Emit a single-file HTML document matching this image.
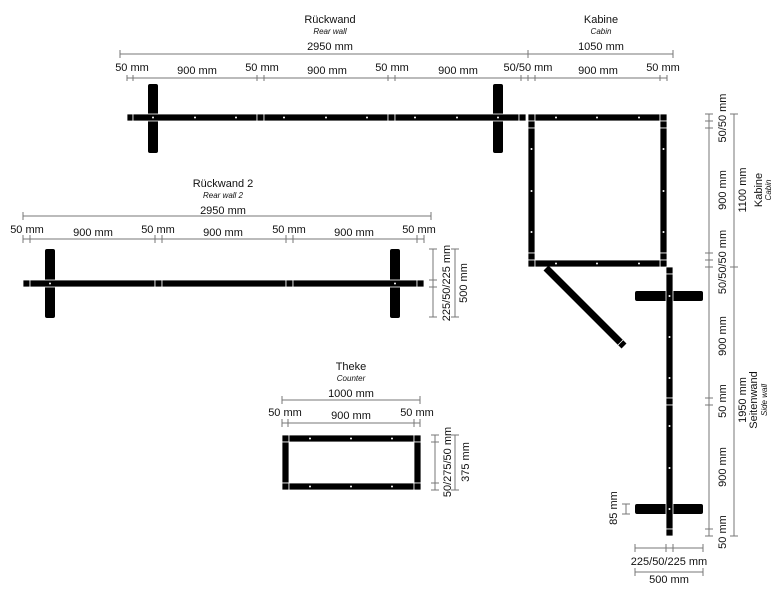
<!DOCTYPE html>
<html><head><meta charset="utf-8"><style>
html,body{margin:0;padding:0;background:#fff;}
svg{display:block;font-family:"Liberation Sans",sans-serif;}
.t{font-size:11px;fill:#111;text-anchor:middle;}
.s{font-size:8px;font-style:italic;fill:#111;text-anchor:middle;}
.d{stroke:#777;stroke-width:1;fill:none;}
.b{fill:#000;stroke:#fff;stroke-width:0.8;}
.p{fill:#000;}
.w{fill:#fff;}
</style></head><body>
<svg width="783" height="590" viewBox="0 0 783 590" xmlns="http://www.w3.org/2000/svg">
<!-- Rückwand titles -->
<text class="t" x="330" y="23">Rückwand</text>
<text class="s" x="330" y="34">Rear wall</text>
<text class="t" x="330" y="50">2950 mm</text>
<path class="d" d="M120 54H528M120 50V58"/>
<text class="t" x="601" y="23">Kabine</text>
<text class="s" x="601" y="34">Cabin</text>
<text class="t" x="601" y="50">1050 mm</text>
<path class="d" d="M528 50V58M528 54H673M673 50V58"/>
<!-- sub dims top -->
<text class="t" x="132" y="71">50 mm</text>
<text class="t" x="197" y="74">900 mm</text>
<text class="t" x="262" y="71">50 mm</text>
<text class="t" x="327" y="74">900 mm</text>
<text class="t" x="392" y="71">50 mm</text>
<text class="t" x="458" y="74">900 mm</text>
<text class="t" x="528" y="71">50/50 mm</text>
<text class="t" x="598" y="74">900 mm</text>
<text class="t" x="663" y="71">50 mm</text>
<path class="d" d="M127 78H667M127 75V81M133 75V81M257 75V81M264 75V81M388 75V81M395 75V81M521 75V81M528 75V81M535 75V81M660 75V81M667 75V81"/>
<!-- Rückwand posts -->
<rect class="p" x="148" y="84" width="10" height="69" rx="2"/>
<rect class="p" x="493" y="84" width="10" height="69" rx="2"/>
<!-- Rückwand bar -->
<g>
<rect class="b" x="127" y="114" width="6" height="7"/>
<rect class="b" x="133" y="114" width="124" height="7"/>
<rect class="b" x="257" y="114" width="7" height="7"/>
<rect class="b" x="264" y="114" width="124" height="7"/>
<rect class="b" x="388" y="114" width="7" height="7"/>
<rect class="b" x="395" y="114" width="124" height="7"/>
<rect class="b" x="519" y="114" width="7" height="7"/>
</g>
<!-- Kabine -->
<rect class="b" x="528" y="114" width="7" height="7"/>
<rect class="b" x="535" y="114" width="125" height="7"/>
<rect class="b" x="660" y="114" width="7" height="7"/>
<rect class="b" x="528" y="121" width="7" height="7"/>
<rect class="b" x="528" y="128" width="7" height="125"/>
<rect class="b" x="528" y="253" width="7" height="7"/>
<rect class="b" x="528" y="260" width="7" height="7"/>
<rect class="b" x="660" y="121" width="7" height="7"/>
<rect class="b" x="660" y="128" width="7" height="125"/>
<rect class="b" x="660" y="253" width="7" height="7"/>
<rect class="b" x="660" y="260" width="7" height="7"/>
<rect class="b" x="535" y="260" width="125" height="7"/>
<!-- diagonal -->
<line x1="546" y1="268" x2="624" y2="346" stroke="#000" stroke-width="7"/>
<line x1="617" y1="346" x2="623" y2="340" stroke="#fff" stroke-width="0.8"/>
<!-- side wall crossbars -->
<rect class="p" x="635" y="291" width="68" height="10" rx="2"/>
<rect class="p" x="635" y="504" width="68" height="10" rx="2"/>
<rect class="b" x="666" y="267" width="7" height="7"/>
<rect class="b" x="666" y="274" width="7" height="124"/>
<rect class="b" x="666" y="398" width="7" height="7"/>
<rect class="b" x="666" y="405" width="7" height="124"/>
<rect class="b" x="666" y="529" width="7" height="7"/>
<!-- dots -->
<g class="w">
<circle cx="153" cy="117.5" r="1"/><circle cx="195" cy="117.5" r="1"/><circle cx="236" cy="117.5" r="1"/>
<circle cx="284" cy="117.5" r="1"/><circle cx="326" cy="117.5" r="1"/><circle cx="367" cy="117.5" r="1"/>
<circle cx="415" cy="117.5" r="1"/><circle cx="457" cy="117.5" r="1"/><circle cx="498" cy="117.5" r="1"/>
<circle cx="556" cy="117.5" r="1"/><circle cx="597" cy="117.5" r="1"/><circle cx="639" cy="117.5" r="1"/>
<circle cx="556" cy="263.5" r="1"/><circle cx="597" cy="263.5" r="1"/><circle cx="639" cy="263.5" r="1"/>
<circle cx="531.5" cy="149" r="1"/><circle cx="531.5" cy="191" r="1"/><circle cx="531.5" cy="232" r="1"/>
<circle cx="663.5" cy="149" r="1"/><circle cx="663.5" cy="191" r="1"/><circle cx="663.5" cy="232" r="1"/>
<circle cx="669.5" cy="296" r="1"/><circle cx="669.5" cy="337" r="1"/><circle cx="669.5" cy="378" r="1"/>
<circle cx="669.5" cy="426" r="1"/><circle cx="669.5" cy="468" r="1"/><circle cx="669.5" cy="509" r="1"/>
<circle cx="50" cy="283" r="1"/><circle cx="91" cy="283" r="1"/><circle cx="133" cy="283" r="1"/>
<circle cx="181" cy="283" r="1"/><circle cx="222" cy="283" r="1"/><circle cx="264" cy="283" r="1"/>
<circle cx="312" cy="283" r="1"/><circle cx="353" cy="283" r="1"/><circle cx="395" cy="283" r="1"/>
<circle cx="310" cy="438" r="1"/><circle cx="351" cy="438" r="1"/><circle cx="392" cy="438" r="1"/>
<circle cx="310" cy="486" r="1"/><circle cx="351" cy="486" r="1"/><circle cx="392" cy="486" r="1"/>
</g>
<!-- right dims Kabine / side wall -->
<path class="d" d="M709 114V536M705 114H713M705 121H713M705 128H713M705 253H713M705 260H713M705 267H713M705 398H713M705 405H713M705 529H713M705 536H713"/>
<path class="d" d="M734 114V536M730 114H738M730 267H738M730 536H738"/>
<g class="t">
<text transform="translate(726,118) rotate(-90)">50/50 mm</text>
<text transform="translate(726,190) rotate(-90)">900 mm</text>
<text transform="translate(726,262) rotate(-90)">50/50/50 mm</text>
<text transform="translate(726,336) rotate(-90)">900 mm</text>
<text transform="translate(726,401) rotate(-90)">50 mm</text>
<text transform="translate(726,467) rotate(-90)">900 mm</text>
<text transform="translate(726,532) rotate(-90)">50 mm</text>
<text transform="translate(746,190) rotate(-90)">1100 mm</text>
<text transform="translate(762,190) rotate(-90)">Kabine</text>
<text transform="translate(746,400) rotate(-90)">1950 mm</text>
<text transform="translate(757,400) rotate(-90)">Seitenwand</text>
<text transform="translate(617,508) rotate(-90)">85 mm</text>
</g>
<g class="s">
<text transform="translate(771,190) rotate(-90)">Cabin</text>
<text transform="translate(767,400) rotate(-90)">Side wall</text>
</g>
<path class="d" d="M626 504V514M622 504H630M622 514H630"/>
<path class="d" d="M635 548H703M635 544V552M666 544V552M673 544V552M703 544V552M635 572H703M635 568V576M703 568V576"/>
<text class="t" x="669" y="565">225/50/225 mm</text>
<text class="t" x="669" y="583">500 mm</text>
<!-- Rückwand 2 -->
<text class="t" x="223" y="187">Rückwand 2</text>
<text class="s" x="223" y="198">Rear wall 2</text>
<text class="t" x="223" y="214">2950 mm</text>
<path class="d" d="M23 216H431M23 212V220M431 212V220"/>
<text class="t" x="27" y="233">50 mm</text>
<text class="t" x="93" y="236">900 mm</text>
<text class="t" x="158" y="233">50 mm</text>
<text class="t" x="223" y="236">900 mm</text>
<text class="t" x="289" y="233">50 mm</text>
<text class="t" x="354" y="236">900 mm</text>
<text class="t" x="419" y="233">50 mm</text>
<path class="d" d="M23 239H424M23 235V243M30 235V243M155 235V243M162 235V243M286 235V243M293 235V243M417 235V243M424 235V243"/>
<rect class="p" x="45" y="249" width="10" height="69" rx="2"/>
<rect class="p" x="390" y="249" width="10" height="69" rx="2"/>
<rect class="b" x="23" y="280" width="7" height="7"/>
<rect class="b" x="30" y="280" width="125" height="7"/>
<rect class="b" x="155" y="280" width="7" height="7"/>
<rect class="b" x="162" y="280" width="124" height="7"/>
<rect class="b" x="286" y="280" width="7" height="7"/>
<rect class="b" x="293" y="280" width="124" height="7"/>
<rect class="b" x="417" y="280" width="7" height="7"/>
<g class="w"><circle cx="50" cy="283.5" r="1"/><circle cx="395" cy="283.5" r="1"/></g>
<path class="d" d="M433 249V317M429 249H437M429 280H437M429 287H437M429 317H437M455 249V317M451 249H459M451 317H459"/>
<g class="t">
<text transform="translate(450,283) rotate(-90)">225/50/225 mm</text>
<text transform="translate(467,283) rotate(-90)">500 mm</text>
</g>
<!-- Theke -->
<text class="t" x="351" y="370">Theke</text>
<text class="s" x="351" y="381">Counter</text>
<text class="t" x="351" y="397">1000 mm</text>
<path class="d" d="M282 400H420M282 396V404M420 396V404"/>
<text class="t" x="285" y="416">50 mm</text>
<text class="t" x="351" y="419">900 mm</text>
<text class="t" x="417" y="416">50 mm</text>
<path class="d" d="M282 423H420M282 419V427M288 419V427M414 419V427M420 419V427"/>
<rect class="b" x="282" y="435" width="7" height="7"/>
<rect class="b" x="289" y="435" width="125" height="7"/>
<rect class="b" x="414" y="435" width="7" height="7"/>
<rect class="b" x="282" y="442" width="7" height="41"/>
<rect class="b" x="414" y="442" width="7" height="41"/>
<rect class="b" x="282" y="483" width="7" height="7"/>
<rect class="b" x="289" y="483" width="125" height="7"/>
<rect class="b" x="414" y="483" width="7" height="7"/>
<g class="w"><circle cx="310" cy="438.5" r="1"/><circle cx="351" cy="438.5" r="1"/><circle cx="392" cy="438.5" r="1"/><circle cx="310" cy="486.5" r="1"/><circle cx="351" cy="486.5" r="1"/><circle cx="392" cy="486.5" r="1"/></g>
<path class="d" d="M435 435V490M431 435H439M431 442H439M431 483H439M431 490H439M455 435V490M451 435H459M451 490H459"/>
<g class="t">
<text transform="translate(451,462) rotate(-90)">50/275/50 mm</text>
<text transform="translate(469,462) rotate(-90)">375 mm</text>
</g>
</svg>
</body></html>
